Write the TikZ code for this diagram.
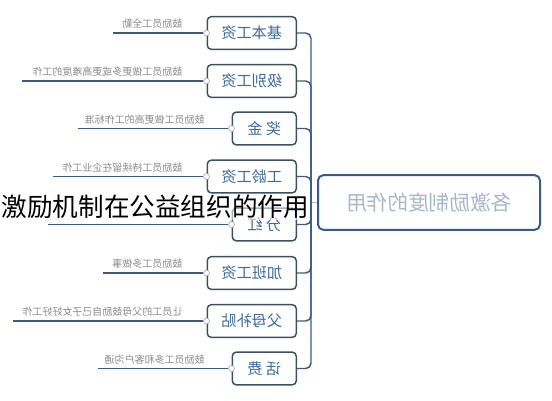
\documentclass[tikz,border=0pt]{standalone}
\usepackage{fontspec}
\usepackage{graphicx}
\usetikzlibrary{positioning, calc}
\newfontfamily\cjk{Noto Sans CJK SC}
\definecolor{mFrame}{HTML}{3D4F63}
\definecolor{mBlue}{HTML}{3E6B99}
\definecolor{mLink}{HTML}{3A5A84}
\definecolor{mNote}{HTML}{8A8A8A}
\definecolor{mPale}{HTML}{A7B6C8}

\begin{document}
\begin{tikzpicture}[x=0.75pt, y=-0.75pt,
    item/.style={draw=mFrame, line width=1.1pt, rounded corners=3pt, fill=white, text=mBlue,
      font=\cjk\fontsize{11.4}{13}\selectfont, minimum height=24.5pt, inner sep=0pt, anchor=east},
    tip/.style={text=mNote, font=\cjk\fontsize{7.5}{9}\selectfont, inner sep=0pt},
    knob/.style={circle, draw=mNote!70, fill=white, line width=0.5pt, minimum size=4.5pt, inner sep=0pt},
    link/.style={draw=mLink, line width=1.1pt, rounded corners=4pt},
    note/.style={draw=mLink, line width=1pt}]
  \useasboundingbox (0,0) rectangle (552,400);

  % root
  \node[draw=mLink, line width=1.5pt, rounded corners=4pt, fill=white, text=mPale,
    font=\cjk\fontsize{15.5}{18}\selectfont, minimum width=166.5pt, minimum height=41pt, inner sep=0pt]
    (root) at (429,202.5) {\reflectbox{各激励制度的作用}};
  \coordinate (hub) at (311,202.5);
  \draw[draw=mNote!60, line width=0.8pt] (hub) -- (root.west);

  % incentives
  \node[item, minimum width=66.75pt] (base) at (297,33) {\reflectbox{基本工资}};
  \node[item, minimum width=66.75pt] (level) at (297,81) {\reflectbox{级别工资}};
  \node[item, minimum width=48pt] (bonus) at (297,128.5) {\reflectbox{奖 金}};
  \node[item, minimum width=66.75pt] (senior) at (297,176.5) {\reflectbox{工龄工资}};
  \node[item, minimum width=48pt] (share) at (297,224.5) {\reflectbox{分 红}};
  \node[item, minimum width=66.75pt] (extra) at (297,273) {\reflectbox{加班工资}};
  \node[item, minimum width=66.75pt] (parent) at (297,321) {\reflectbox{父母补贴}};
  \node[item, minimum width=48pt] (phone) at (297,368.5) {\reflectbox{话 费}};

  \foreach \n in {base, level, bonus, senior, share, extra, parent, phone}
    \draw[link] (\n.east) -| (hub);

  % notes
  \coordinate (e1) at (113,33);
  \coordinate (e2) at (22,81);
  \coordinate (e3) at (78,128.5);
  \coordinate (e4) at (53,176.5);
  \coordinate (e5) at (48,224.5);
  \coordinate (e6) at (103,273);
  \coordinate (e7) at (13,321);
  \coordinate (e8) at (98,368.5);
  \foreach \n/\e in {base/e1, level/e2, bonus/e3, senior/e4, share/e5, extra/e6, parent/e7, phone/e8} {
    \node[knob] (k-\n) at (\n.west) {};
    \draw[note] (k-\n.west) -- (\e);
  }
  \node[tip, above left=3pt and 18pt of base.west] (t1) {\reflectbox{鼓励员工全勤}};
  \node[tip, above left=3pt and 18pt of level.west] (t2) {\reflectbox{鼓励员工做更多或更高难度的工作}};
  \node[tip, above left=3pt and 20pt of bonus.west] (t3) {\reflectbox{鼓励员工做更高的工作标准}};
  \node[tip, above left=3pt and 18pt of senior.west] (t4) {\reflectbox{鼓励员工持续留在企业工作}};
  \node[tip, above left=3pt and 18pt of extra.west] (t6) {\reflectbox{鼓励员工多做事}};
  \node[tip, above left=3pt and 18pt of parent.west] (t7) {\reflectbox{让员工的父母鼓励自己子女好好工作}};
  \node[tip, above left=3pt and 20pt of phone.west] (t8) {\reflectbox{鼓励员工多和客户沟通}};

  % caption
  \node[font=\cjk\fontsize{19.2}{23}\selectfont, text=black, fill=white, fill opacity=0.55,
    text opacity=1, inner sep=1pt, anchor=west]
    (title) at (0,207) {激励机制在公益组织的作用};
\end{tikzpicture}
\end{document}
